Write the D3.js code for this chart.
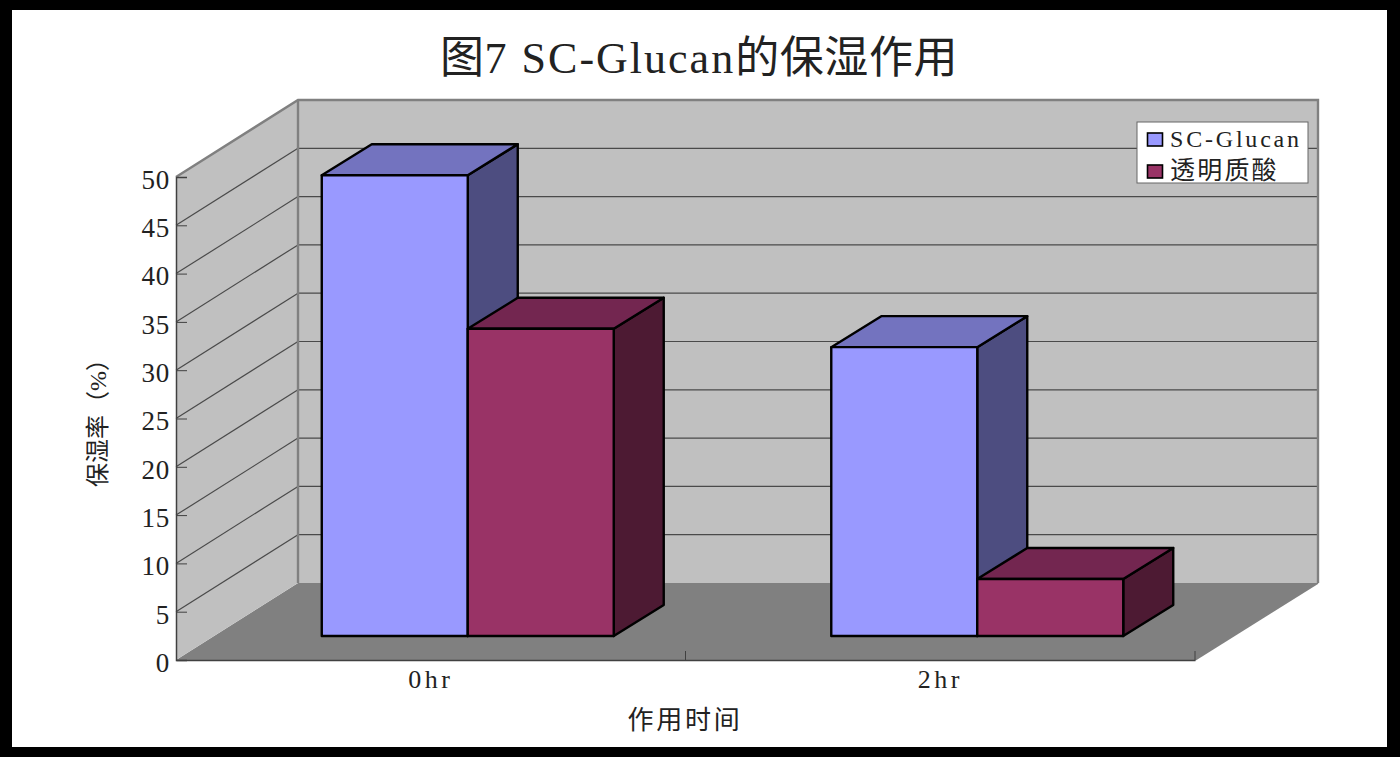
<!DOCTYPE html>
<meta charset="utf-8" />
<style>
  html, body { margin: 0; padding: 0; background: #000; overflow: hidden; }
  text { font-family: "Liberation Serif", "Noto Sans CJK SC", serif; fill: #222; }
</style>
<script src="https://d3js.org/d3.v7.min.js"></script>
<div id="chart"></div>
<script>
  // chart data
  const categories = ['0hr', '2hr'];
  const seriesNames = ['SC-Glucan', '透明质酸'];
  const glucanValues = [47.7, 29.9];
  const hyaluronicValues = [31.8, 5.9];
  const yTicks = [0, 5, 10, 15, 20, 25, 30, 35, 40, 45, 50];
  const seriesValues = [glucanValues, hyaluronicValues];

  const faceColors = [
    { front: '#9999ff', top: '#7373bf', side: '#4d4d80' },
    { front: '#993366', top: '#732650', side: '#4d1a33' },
  ];

  const width = 1400;
  const height = 757;

  // the 3d box: how far the back wall sits from the front plane
  const wall = { dx: 122, dy: -77 };
  // bars stand a little behind the front plane and have their own depth
  const barShift = { dx: 37, dy: -24 };
  const barDepth = { dx: 50, dy: -31 };

  const x0 = d3.scaleBand().domain(categories).range([176, 1195]);
  const x1 = d3
    .scaleBand()
    .domain(seriesNames)
    .range([0, x0.bandwidth()])
    .paddingOuter(0.745);
  const y = d3.scaleLinear().domain([0, 50]).range([660, 177]);

  const svg = d3
    .select('#chart')
    .append('svg')
    .attr('width', width)
    .attr('height', height)
    .style('display', 'block');

  // black frame round the white page
  svg.append('rect').attr('width', width).attr('height', height).attr('fill', '#000');
  svg
    .append('rect')
    .attr('x', 12)
    .attr('y', 10)
    .attr('width', 1375)
    .attr('height', 737)
    .attr('fill', '#fff');

  const poly = (pts) => pts.map((p) => p.join(',')).join(' ');
  const xLeft = x0.range()[0];
  const xRight = x0.range()[1];
  const yBase = y(0);
  const yTop = y(50);

  // floor
  svg
    .append('polygon')
    .attr(
      'points',
      poly([
        [xLeft, yBase],
        [xLeft + wall.dx, yBase + wall.dy],
        [xRight + wall.dx + 1, yBase + wall.dy],
        [xRight, yBase],
      ]),
    )
    .attr('fill', '#808080');
  svg
    .append('line')
    .attr('x1', xRight)
    .attr('y1', yBase)
    .attr('x2', xRight + wall.dx + 1)
    .attr('y2', yBase + wall.dy)
    .attr('stroke', '#808080')
    .attr('stroke-width', 1.5);

  // left wall
  svg
    .append('polygon')
    .attr(
      'points',
      poly([
        [xLeft, yTop],
        [xLeft + wall.dx, yTop + wall.dy],
        [xLeft + wall.dx, yBase + wall.dy],
        [xLeft, yBase],
      ]),
    )
    .attr('fill', '#c0c0c0');

  // back wall
  svg
    .append('rect')
    .attr('x', xLeft + wall.dx)
    .attr('y', yTop + wall.dy)
    .attr('width', xRight - xLeft + 1)
    .attr('height', yBase - yTop)
    .attr('fill', '#c0c0c0');

  // grid lines, along the left wall and then across the back wall
  const grid = svg.append('g').attr('stroke', '#4a4a4a').attr('stroke-width', 1.2);
  yTicks
    .filter((d) => d > 0 && d < 50)
    .forEach((d) => {
      grid
        .append('line')
        .attr('x1', xLeft)
        .attr('y1', y(d))
        .attr('x2', xLeft + wall.dx)
        .attr('y2', y(d) + wall.dy);
      grid
        .append('line')
        .attr('x1', xLeft + wall.dx)
        .attr('y1', y(d) + wall.dy)
        .attr('x2', xRight + wall.dx + 1)
        .attr('y2', y(d) + wall.dy);
    });

  // wall outline
  svg
    .append('path')
    .attr(
      'd',
      `M${xLeft},${yTop}L${xLeft + wall.dx},${yTop + wall.dy}H${xRight + wall.dx + 1}V${yBase + wall.dy}`,
    )
    .attr('fill', 'none')
    .attr('stroke', '#808080')
    .attr('stroke-width', 2.4);
  svg
    .append('line')
    .attr('x1', xLeft + wall.dx)
    .attr('y1', yTop + wall.dy)
    .attr('x2', xLeft + wall.dx)
    .attr('y2', yBase + wall.dy)
    .attr('stroke', '#808080')
    .attr('stroke-width', 2.4);

  // y axis
  const yAxis = svg
    .append('g')
    .attr('transform', `translate(${xLeft},0)`)
    .call(d3.axisLeft(y).tickValues(yTicks).tickSize(-11).tickPadding(6));
  yAxis.select('.domain').attr('stroke', '#404040').attr('stroke-width', 1.5);
  yAxis.selectAll('.tick line').attr('stroke', '#404040');
  yAxis
    .selectAll('.tick text')
    .attr('font-size', 27)
    .attr('letter-spacing', 0.8)
    .attr('dy', '0.42em')
    .style('font-family', '"Liberation Serif", serif');

  // x axis, ticks sit on the band edges
  const xAxis = svg
    .append('g')
    .attr('transform', `translate(0,${yBase})`)
    .call(d3.axisBottom(x0).tickSize(0).tickPadding(10));
  xAxis.select('.domain').attr('stroke', '#404040').attr('stroke-width', 1.5);
  xAxis
    .selectAll('.tick text')
    .attr('font-size', 26)
    .attr('letter-spacing', 3.4)
    .style('font-family', '"Liberation Serif", serif');
  categories.forEach((c) => {
    xAxis
      .append('line')
      .attr('x1', x0(c) + x0.bandwidth())
      .attr('x2', x0(c) + x0.bandwidth())
      .attr('y1', 0)
      .attr('y2', -9)
      .attr('stroke', '#404040');
  });

  // bars, each one three faces
  const barLayer = svg
    .append('g')
    .attr('stroke', '#000')
    .attr('stroke-width', 2.4)
    .attr('stroke-linejoin', 'round');
  categories.forEach((c, ci) => {
    seriesNames.forEach((s, si) => {
      const left = x0(c) + x1(s) + barShift.dx;
      const right = left + x1.bandwidth();
      const bottom = y(0) + barShift.dy;
      const top = y(seriesValues[si][ci]) + barShift.dy;
      const colors = faceColors[si];
      barLayer
        .append('polygon')
        .attr('fill', colors.side)
        .attr(
          'points',
          poly([
            [right, top],
            [right + barDepth.dx, top + barDepth.dy],
            [right + barDepth.dx, bottom + barDepth.dy],
            [right, bottom],
          ]),
        );
      barLayer
        .append('polygon')
        .attr('fill', colors.top)
        .attr(
          'points',
          poly([
            [left, top],
            [left + barDepth.dx, top + barDepth.dy],
            [right + barDepth.dx, top + barDepth.dy],
            [right, top],
          ]),
        );
      barLayer
        .append('rect')
        .attr('fill', colors.front)
        .attr('x', left)
        .attr('y', top)
        .attr('width', right - left)
        .attr('height', bottom - top);
    });
  });

  // title, latin part is spaced wider than the chinese part
  const title = svg
    .append('text')
    .attr('x', 440)
    .attr('y', 73)
    .attr('font-size', 44);
  title.append('tspan').attr('letter-spacing', 0.6).text('图');
  title.append('tspan').attr('letter-spacing', 2).text('7 SC-Glucan');
  title.append('tspan').attr('letter-spacing', 0.6).text('的保湿作用');

  // axis titles
  svg
    .append('text')
    .attr('x', 685)
    .attr('y', 729)
    .attr('text-anchor', 'middle')
    .attr('font-size', 26)
    .attr('letter-spacing', 2.8)
    .text('作用时间');
  svg
    .append('text')
    .attr('transform', 'translate(106,417) rotate(-90)')
    .attr('text-anchor', 'middle')
    .attr('font-size', 24)
    .text('保湿率（%）');

  // legend
  const legend = svg.append('g');
  legend
    .append('rect')
    .attr('x', 1137)
    .attr('y', 122)
    .attr('width', 171)
    .attr('height', 61)
    .attr('fill', '#fff')
    .attr('stroke', '#666')
    .attr('stroke-width', 1);
  seriesNames.forEach((s, i) => {
    legend
      .append('rect')
      .attr('x', 1147.5)
      .attr('y', 133 + i * 32)
      .attr('width', 15)
      .attr('height', 13)
      .attr('fill', faceColors[i].front)
      .attr('stroke', '#000')
      .attr('stroke-width', 1.6);
    legend
      .append('text')
      .attr('x', 1170)
      .attr('y', 147 + i * 32)
      .attr('font-size', i === 0 ? 24 : 25)
      .attr('letter-spacing', i === 0 ? 2.8 : 2.2)
      .text(s);
  });
</script>
